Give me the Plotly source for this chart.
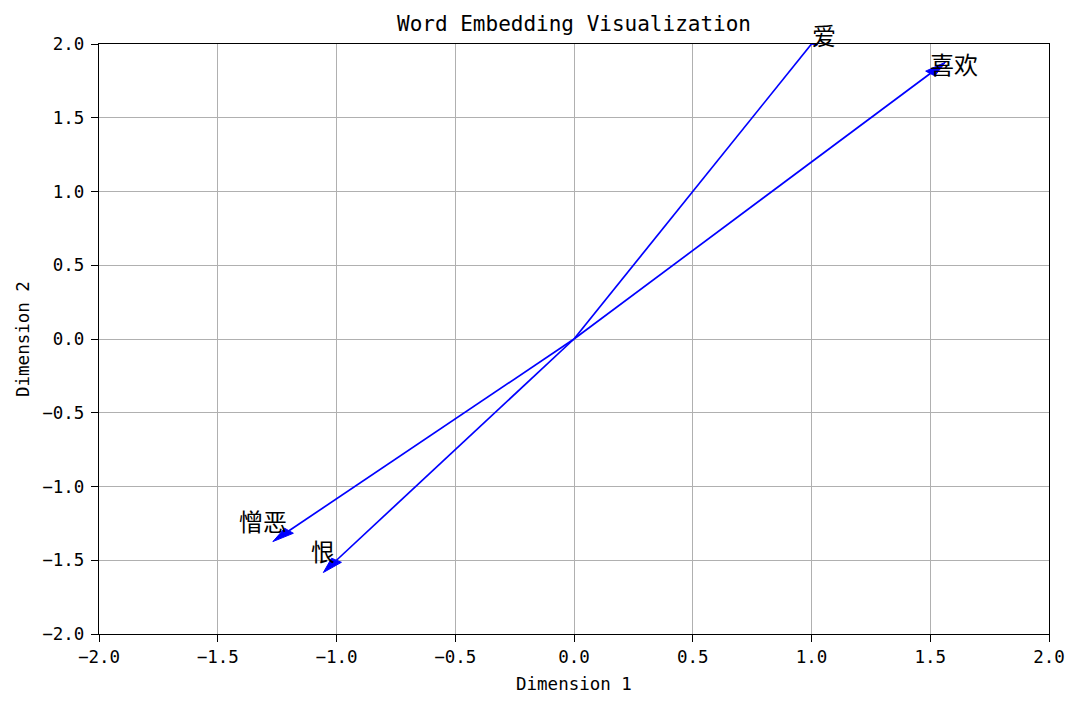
import numpy as np
import plotly.graph_objects as go

# ---- data ----
words = ["爱", "喜欢", "憎恶", "恨"]
x_vals = [1.0, 1.5, -1.2, -1.0]
y_vals = [2.0, 1.8, -1.3, -1.5]
tick_vals = [-2.0, -1.5, -1.0, -0.5, 0.0, 0.5, 1.0, 1.5, 2.0]
tick_text = ["−2.0", "−1.5", "−1.0", "−0.5", "0.0", "0.5", "1.0", "1.5", "2.0"]

# ---- style ----
ARROW_COLOR = "#0000ff"
HEAD_LENGTH = 0.1
HEAD_WIDTH = 0.05
LATIN_FONT = "DejaVu Sans Mono"
CJK_FONT = "Noto Sans CJK SC"

W, H = 1064, 693  # page body has an 8px margin
ML, MR, MT, MB = 91, 23, 36, 67

fig = go.Figure()

for w, x, y in zip(words, x_vals, y_vals):
    # shaft
    fig.add_trace(go.Scatter(x=[0, x], y=[0, y], mode="lines",
                             line=dict(color=ARROW_COLOR, width=1.7),
                             hoverinfo="skip", showlegend=False))
    # head (matplotlib FancyArrow style, head starts at the point)
    L = np.hypot(x, y)
    ux, uy = x / L, y / L
    px, py = -uy, ux
    tipx, tipy = x + HEAD_LENGTH * ux, y + HEAD_LENGTH * uy
    hw = HEAD_WIDTH / 2
    hx = [x + hw * px, tipx, x - hw * px, x + hw * px]
    hy = [y + hw * py, tipy, y - hw * py, y + hw * py]
    fig.add_trace(go.Scatter(x=hx, y=hy, mode="lines", fill="toself",
                             fillcolor=ARROW_COLOR,
                             line=dict(color=ARROW_COLOR, width=1),
                             hoverinfo="skip", showlegend=False))
    fig.add_annotation(x=x, y=y, text=w, showarrow=False,
                       xanchor="left" if x >= 0 else "right",
                       xshift=-2 if x >= 0 else 0,
                       yanchor="middle", yshift=10,
                       font=dict(family=CJK_FONT, size=24, color="black"))

axis_common = dict(range=[-2, 2], tickvals=tick_vals, ticktext=tick_text,
                   showgrid=True, gridcolor="#b0b0b0", gridwidth=1,
                   zeroline=False, showline=True, linecolor="black",
                   linewidth=1.3, mirror=True, ticks="outside", ticklen=7,
                   tickcolor="black", tickwidth=1.3, automargin=False,
                   tickfont=dict(family=LATIN_FONT, size=17.5, color="black"))

plot_w = W - ML - MR
plot_h = H - MT - MB

fig.update_layout(
    template="none",
    width=W, height=H,
    margin=dict(l=ML, r=MR, t=MT, b=MB, autoexpand=False),
    plot_bgcolor="white", paper_bgcolor="white",
    xaxis=dict(**axis_common),
    yaxis=dict(**axis_common, ticklabelstandoff=3),
    title=dict(text="Word Embedding Visualization",
               x=(ML + plot_w / 2) / W, xanchor="center",
               y=1 - 16 / H, yanchor="middle",
               font=dict(family=LATIN_FONT, size=21, color="black")),
)

fig.add_annotation(text="Dimension 1", xref="paper", yref="paper",
                   x=0.5, y=-49.5 / plot_h, xanchor="center", yanchor="middle",
                   showarrow=False,
                   font=dict(family=LATIN_FONT, size=17.5, color="black"))
fig.add_annotation(text="Dimension 2", xref="paper", yref="paper",
                   x=-76 / plot_w, y=0.5, xanchor="center", yanchor="middle",
                   textangle=-90, showarrow=False,
                   font=dict(family=LATIN_FONT, size=17.5, color="black"))

fig.write_html("out.html")
